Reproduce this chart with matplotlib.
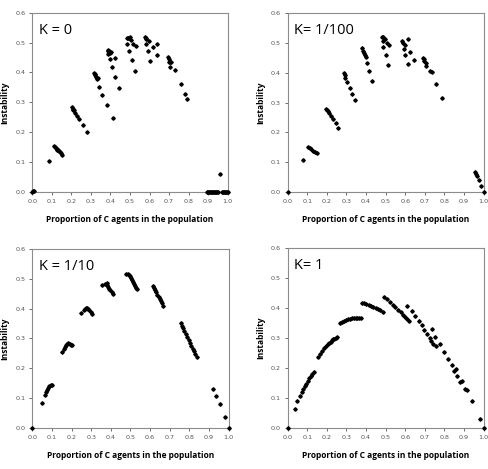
import matplotlib
matplotlib.use("Agg")
import matplotlib.pyplot as plt

# K = 0
k0_x = [0.0, 0.005, 0.01, 0.084,
        0.111, 0.116, 0.12, 0.125, 0.129, 0.133, 0.138, 0.142, 0.148, 0.154,
        0.201, 0.206, 0.21, 0.214, 0.217, 0.231, 0.241, 0.258, 0.28,
        0.316, 0.319, 0.322, 0.325, 0.33, 0.336, 0.34, 0.357, 0.382, 0.411,
        0.386, 0.39, 0.393, 0.398, 0.389, 0.405, 0.398, 0.423, 0.408, 0.423, 0.442,
        0.486, 0.49, 0.495, 0.498, 0.486, 0.507, 0.495, 0.509, 0.517, 0.531, 0.524,
        0.578, 0.581, 0.584, 0.596, 0.584, 0.592, 0.603, 0.62, 0.637, 0.64,
        0.695, 0.698, 0.7, 0.705, 0.711, 0.707, 0.729,
        0.761, 0.782, 0.792, 0.963,
        0.895, 0.9, 0.905, 0.91, 0.915, 0.92, 0.925, 0.93, 0.935, 0.94, 0.945, 0.95,
        0.97, 0.975, 0.98, 0.985, 0.99, 0.995, 1.0]
k0_y = [0.0, 0.002, 0.002, 0.105,
        0.153, 0.150, 0.148, 0.145, 0.142, 0.139, 0.136, 0.133, 0.129, 0.124,
        0.283, 0.279, 0.276, 0.273, 0.266, 0.254, 0.243, 0.223, 0.200,
        0.399, 0.395, 0.390, 0.386, 0.377, 0.380, 0.353, 0.326, 0.290, 0.247,
        0.475, 0.473, 0.472, 0.466, 0.461, 0.467, 0.444, 0.447, 0.419, 0.386, 0.348,
        0.515, 0.516, 0.514, 0.518, 0.496, 0.509, 0.473, 0.442, 0.496, 0.487, 0.406,
        0.518, 0.516, 0.513, 0.507, 0.496, 0.473, 0.438, 0.484, 0.496, 0.458,
        0.451, 0.446, 0.436, 0.435, 0.436, 0.419, 0.407,
        0.360, 0.327, 0.312, 0.060,
        0, 0, 0, 0, 0, 0, 0, 0, 0, 0, 0, 0,
        0, 0, 0, 0, 0, 0, 0]

# K = 1/100
k100_x = [0.0, 0.08,
          0.105, 0.112, 0.12, 0.129, 0.138, 0.148,
          0.195, 0.2, 0.206, 0.212, 0.221, 0.231, 0.245, 0.258,
          0.289, 0.29, 0.294, 0.304, 0.316, 0.328, 0.341,
          0.381, 0.384, 0.388, 0.394, 0.401, 0.403, 0.413, 0.43,
          0.482, 0.486, 0.495, 0.507, 0.517, 0.484, 0.488, 0.5, 0.51,
          0.585, 0.588, 0.598, 0.614, 0.592, 0.622, 0.598, 0.612, 0.646,
          0.69, 0.694, 0.697, 0.704, 0.707, 0.728, 0.736,
          0.755, 0.786,
          0.956, 0.962, 0.967, 0.976, 0.988, 1.0]
k100_y = [0.0, 0.106,
          0.151, 0.148, 0.143, 0.139, 0.134, 0.130,
          0.280, 0.276, 0.272, 0.265, 0.256, 0.246, 0.233, 0.216,
          0.399, 0.394, 0.384, 0.369, 0.349, 0.329, 0.308,
          0.482, 0.475, 0.468, 0.459, 0.453, 0.433, 0.407, 0.374,
          0.522, 0.520, 0.515, 0.500, 0.492, 0.506, 0.487, 0.460, 0.428,
          0.507, 0.500, 0.492, 0.515, 0.481, 0.470, 0.460, 0.430, 0.444,
          0.451, 0.446, 0.440, 0.433, 0.422, 0.406, 0.403,
          0.364, 0.317,
          0.068, 0.059, 0.055, 0.039, 0.021, 0.0]

# K = 1/10
k10_x = [0.0, 0.048,
         0.066, 0.072, 0.077, 0.082, 0.087, 0.093, 0.098,
         0.15, 0.16, 0.166, 0.172, 0.178, 0.184, 0.19, 0.196, 0.202,
         0.246, 0.262, 0.268, 0.274, 0.28, 0.286, 0.291, 0.297, 0.304,
         0.356, 0.372, 0.378, 0.383, 0.388, 0.393, 0.398, 0.404, 0.41,
         0.477, 0.486, 0.492, 0.497, 0.502, 0.507, 0.512, 0.517, 0.523, 0.529, 0.533,
         0.613, 0.619, 0.625, 0.631, 0.637, 0.643, 0.649, 0.655, 0.661, 0.667,
         0.758, 0.764, 0.769, 0.775, 0.782, 0.789, 0.796, 0.803, 0.81, 0.817, 0.824, 0.831, 0.837,
         0.92, 0.937, 0.954, 0.979, 1.0]
k10_y = [0.0, 0.082,
         0.111, 0.120, 0.128, 0.134, 0.139, 0.142, 0.144,
         0.253, 0.265, 0.272, 0.277, 0.281, 0.283, 0.282, 0.279, 0.276,
         0.384, 0.394, 0.399, 0.402, 0.402, 0.399, 0.394, 0.389, 0.383,
         0.478, 0.482, 0.485, 0.479, 0.473, 0.467, 0.461, 0.456, 0.450,
         0.516, 0.515, 0.513, 0.508, 0.502, 0.496, 0.490, 0.484, 0.477, 0.470, 0.466,
         0.476, 0.469, 0.462, 0.455, 0.447, 0.440, 0.432, 0.425, 0.417, 0.409,
         0.350, 0.342, 0.334, 0.325, 0.315, 0.305, 0.295, 0.285, 0.275, 0.265, 0.256, 0.246, 0.237,
         0.129, 0.105, 0.080, 0.037, 0.0]

# K = 1
k1_x = [0.0,
        0.035, 0.05, 0.063, 0.071, 0.079, 0.087, 0.095, 0.103, 0.111, 0.118, 0.125, 0.132,
        0.153, 0.166, 0.177, 0.187, 0.196, 0.204, 0.212, 0.219, 0.226, 0.232, 0.238, 0.245, 0.251,
        0.265, 0.276, 0.287, 0.297, 0.307, 0.317, 0.327, 0.337, 0.347, 0.356, 0.365, 0.374,
        0.378, 0.389, 0.401, 0.413, 0.425, 0.437, 0.449, 0.461, 0.473, 0.486,
        0.494, 0.508, 0.522, 0.536, 0.55, 0.564, 0.578, 0.59, 0.599, 0.609, 0.621,
        0.61, 0.632, 0.649, 0.669, 0.684, 0.698, 0.712, 0.724, 0.733, 0.743, 0.755,
        0.735, 0.752, 0.775, 0.798, 0.819, 0.836, 0.85, 0.86, 0.866, 0.879, 0.89,
        0.903, 0.913, 0.94, 0.982, 1.0]
k1_y = [0.0,
        0.063, 0.090, 0.105, 0.118, 0.128, 0.138, 0.147, 0.156, 0.165, 0.172, 0.178, 0.185,
        0.236, 0.248, 0.258, 0.266, 0.273, 0.279, 0.284, 0.288, 0.292, 0.295, 0.298, 0.300, 0.302,
        0.349, 0.354, 0.358, 0.361, 0.363, 0.365, 0.366, 0.367, 0.368, 0.368, 0.368, 0.367,
        0.418, 0.416, 0.413, 0.411, 0.408, 0.404, 0.401, 0.397, 0.392, 0.387,
        0.437, 0.429, 0.420, 0.411, 0.403, 0.394, 0.386, 0.377, 0.371, 0.364, 0.356,
        0.408, 0.391, 0.374, 0.357, 0.342, 0.327, 0.314, 0.301, 0.289, 0.279, 0.272,
        0.329, 0.304, 0.279, 0.254, 0.230, 0.210, 0.190, 0.197, 0.172, 0.154, 0.157,
        0.128, 0.125, 0.089, 0.029, 0.0]

panels = [
    ("K = 0", k0_x, k0_y, [0.066, 0.5906, 0.3996, 0.3823]),
    ("K= 1/100", k100_x, k100_y, [0.5883, 0.5906, 0.4008, 0.3810]),
    ("K = 1/10", k10_x, k10_y, [0.066, 0.0881, 0.4016, 0.3810]),
    ("K= 1", k1_x, k1_y, [0.5883, 0.0881, 0.4008, 0.3825]),
]

fig = plt.figure(figsize=(4.89, 4.69), dpi=100)
fig.patch.set_facecolor("white")

for label, xs, ys, rect in panels:
    ax = fig.add_axes(rect)
    ax.plot(xs, ys, linestyle="none", marker="D", markersize=1.8,
            color="black", clip_on=False, zorder=3)
    ax.set_xlim(0, 1.0)
    ax.set_ylim(0, 0.6)
    ax.set_xticks([i / 10 for i in range(11)])
    ax.set_yticks([i / 10 for i in range(7)])
    ax.set_xticklabels([f"{i / 10:.1f}" for i in range(11)])
    ax.set_yticklabels([f"{i / 10:.1f}" for i in range(7)])
    ax.tick_params(axis="both", labelsize=4.6, colors="#555555", length=2.5,
                   width=0.6, pad=2.5)
    for s in ax.spines.values():
        s.set_color("#8c8c8c")
        s.set_linewidth(0.8)
    ax.set_xlabel("Proportion of C agents in the population", fontsize=6,
                  fontweight="bold", family="Open Sans", labelpad=8)
    ax.set_ylabel("Instability", fontsize=6, fontweight="bold",
                  family="Open Sans", labelpad=4)
    ax.text(0.034, 0.945, label, transform=ax.transAxes, fontsize=10.5,
            family="Open Sans", va="top", ha="left")

fig.savefig("out.png", dpi=100)
